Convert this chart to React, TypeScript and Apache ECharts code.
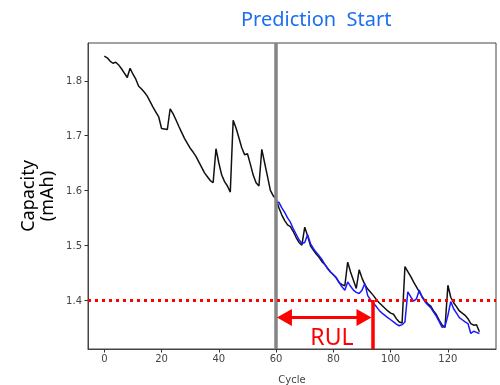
import React, { useEffect, useRef } from "react";
import * as echarts from "echarts";

const actualStart = 0;
const actual = [
  1.845, 1.842, 1.836, 1.832, 1.834, 1.829, 1.822, 1.814, 1.806, 1.823,
  1.812, 1.803, 1.790, 1.785, 1.779, 1.772, 1.762, 1.752, 1.743, 1.734,
  1.713, 1.712, 1.711, 1.749, 1.740, 1.729, 1.717, 1.706, 1.695, 1.686,
  1.677, 1.670, 1.662, 1.652, 1.642, 1.632, 1.625, 1.618, 1.614, 1.676,
  1.650, 1.628, 1.616, 1.608, 1.597, 1.728, 1.714, 1.696, 1.678, 1.665,
  1.667, 1.648, 1.628, 1.614, 1.608, 1.675, 1.650, 1.625, 1.600, 1.590,
  1.585, 1.568, 1.555, 1.545, 1.537, 1.534, 1.525, 1.514, 1.505, 1.500,
  1.533, 1.517, 1.499, 1.491, 1.484, 1.478, 1.470, 1.465, 1.458, 1.451,
  1.446, 1.441, 1.432, 1.428, 1.426, 1.469, 1.451, 1.436, 1.421, 1.455,
  1.440, 1.428, 1.420, 1.414, 1.408, 1.401, 1.395, 1.390, 1.385, 1.380,
  1.376, 1.374, 1.366, 1.360, 1.358, 1.461, 1.452, 1.443, 1.433, 1.424,
  1.415, 1.406, 1.399, 1.393, 1.389, 1.380, 1.373, 1.363, 1.354, 1.350,
  1.427, 1.405, 1.395, 1.388, 1.380, 1.376, 1.372, 1.366, 1.357, 1.354,
  1.355, 1.342,
];

const predictedStart = 60;
const predicted = [
  1.580, 1.578, 1.568, 1.560, 1.550, 1.542, 1.530, 1.520, 1.510, 1.503,
  1.505, 1.519, 1.503, 1.494, 1.487, 1.481, 1.474, 1.465, 1.457, 1.451,
  1.446, 1.440, 1.432, 1.424, 1.418, 1.433, 1.425, 1.418, 1.414, 1.412,
  1.418, 1.430, 1.408, 1.400, 1.394, 1.388, 1.381, 1.376, 1.372, 1.368,
  1.364, 1.360, 1.356, 1.353, 1.355, 1.360, 1.415, 1.406, 1.398, 1.402,
  1.418, 1.405, 1.397, 1.391, 1.386, 1.378, 1.370, 1.360, 1.350, 1.352,
  1.372, 1.397, 1.384, 1.376, 1.368, 1.364, 1.360, 1.357, 1.339, 1.343,
  1.341, 1.339,
];

const xTicks = [0, 20, 40, 60, 80, 100, 120];
const yTicks = [1.4, 1.5, 1.6, 1.7, 1.8];

const predictionStartCycle = 60;
const threshold = 1.4;
const eolCycle = 93.6;
const arrowY = 1.368;
const rulLabelPos = [79.5, 1.334];

const xMin = -5.7;
const xMax = 136.8;
const yMin = 1.3106;
const yMax = 1.869;

export default function App() {
  const ref = useRef<HTMLDivElement>(null);
  useEffect(() => {
    if (!ref.current) return;
    const chart = echarts.init(ref.current, undefined, { renderer: "svg" });
    const tickFont = { fontFamily: "DejaVu Sans", fontSize: 10, color: "#444" };
    const axisLine = { show: true, onZero: false, lineStyle: { color: "#444", width: 1 } };
    chart.setOption({
      animation: false,
      title: {
        text: "Prediction  Start",
        left: 236,
        top: 3,
        textStyle: { fontFamily: "Noto Sans", fontSize: 20, fontWeight: "normal", color: "#1e6ff0" },
      },
      grid: {
        left: 88,
        right: 4,
        top: 43,
        bottom: 36,
        show: true,
        containLabel: false,
        outerBoundsMode: "none",
        borderColor: "#444",
        borderWidth: 1,
        backgroundColor: "transparent",
      },
      xAxis: {
        type: "value",
        min: xMin,
        max: xMax,
        name: "Cycle",
        nameLocation: "middle",
        nameGap: 25,
        nameTextStyle: { fontFamily: "DejaVu Sans", fontSize: 10, color: "#444" },
        splitLine: { show: false },
        axisLine,
        axisTick: { show: true, length: 3.5, customValues: xTicks, lineStyle: { color: "#333" } },
        axisLabel: { customValues: xTicks, margin: 4, ...tickFont },
      },
      yAxis: {
        type: "value",
        min: yMin,
        max: yMax,
        name: "Capacity\n(mAh)",
        nameLocation: "middle",
        nameRotate: 90,
        nameGap: 28,
        nameTextStyle: { fontFamily: "Noto Sans", fontSize: 18, color: "#000", lineHeight: 19 },
        splitLine: { show: false },
        axisLine,
        axisTick: { show: true, length: 3.5, customValues: yTicks, lineStyle: { color: "#333" } },
        axisLabel: {
          customValues: yTicks,
          margin: 6,
          formatter: (v: number) => v.toFixed(1),
          ...tickFont,
        },
      },
      series: [
        {
          type: "line",
          name: "actual",
          data: actual.map((v, i) => [actualStart + i, v]),
          showSymbol: false,
          lineStyle: { color: "#111", width: 1.5 },
          z: 2,
        },
        {
          type: "line",
          name: "predicted",
          data: predicted.map((v, i) => [predictedStart + i, v]),
          showSymbol: false,
          lineStyle: { color: "#1a1aff", width: 1.5 },
          z: 3,
          markLine: {
            silent: true,
            label: { show: false },
            symbol: "none",
            data: [
              {
                xAxis: predictionStartCycle,
                lineStyle: { color: "#858585", width: 3.5, type: "solid" },
              },
              {
                yAxis: threshold,
                lineStyle: { color: "#ff0000", width: 3, type: [3, 4] },
              },
              [
                { coord: [eolCycle, threshold], lineStyle: { color: "#ff0000", width: 3.5, type: "solid" } },
                { coord: [eolCycle, yMin] },
              ],
              [
                {
                  coord: [predictionStartCycle + 2.9, arrowY],
                  symbol: "triangle",
                  symbolSize: [17, 15],
                  lineStyle: { color: "#ff0000", width: 3, type: "solid" },
                },
                { coord: [eolCycle - 2.9, arrowY], symbol: "triangle", symbolSize: [17, 15] },
              ],
            ],
          },
          markPoint: {
            silent: true,
            symbol: "circle",
            symbolSize: 0,
            data: [{ coord: rulLabelPos, value: "RUL" }],
            label: {
              show: true,
              position: "inside",
              formatter: "RUL",
              fontFamily: "Noto Sans",
              fontSize: 23,
              color: "#ff0000",
            },
          },
        },
      ],
    });
    return () => chart.dispose();
  }, []);
  return <div ref={ref} style={{ width: 500, height: 385, position: "fixed", left: 0, top: 0 }} />;
}
